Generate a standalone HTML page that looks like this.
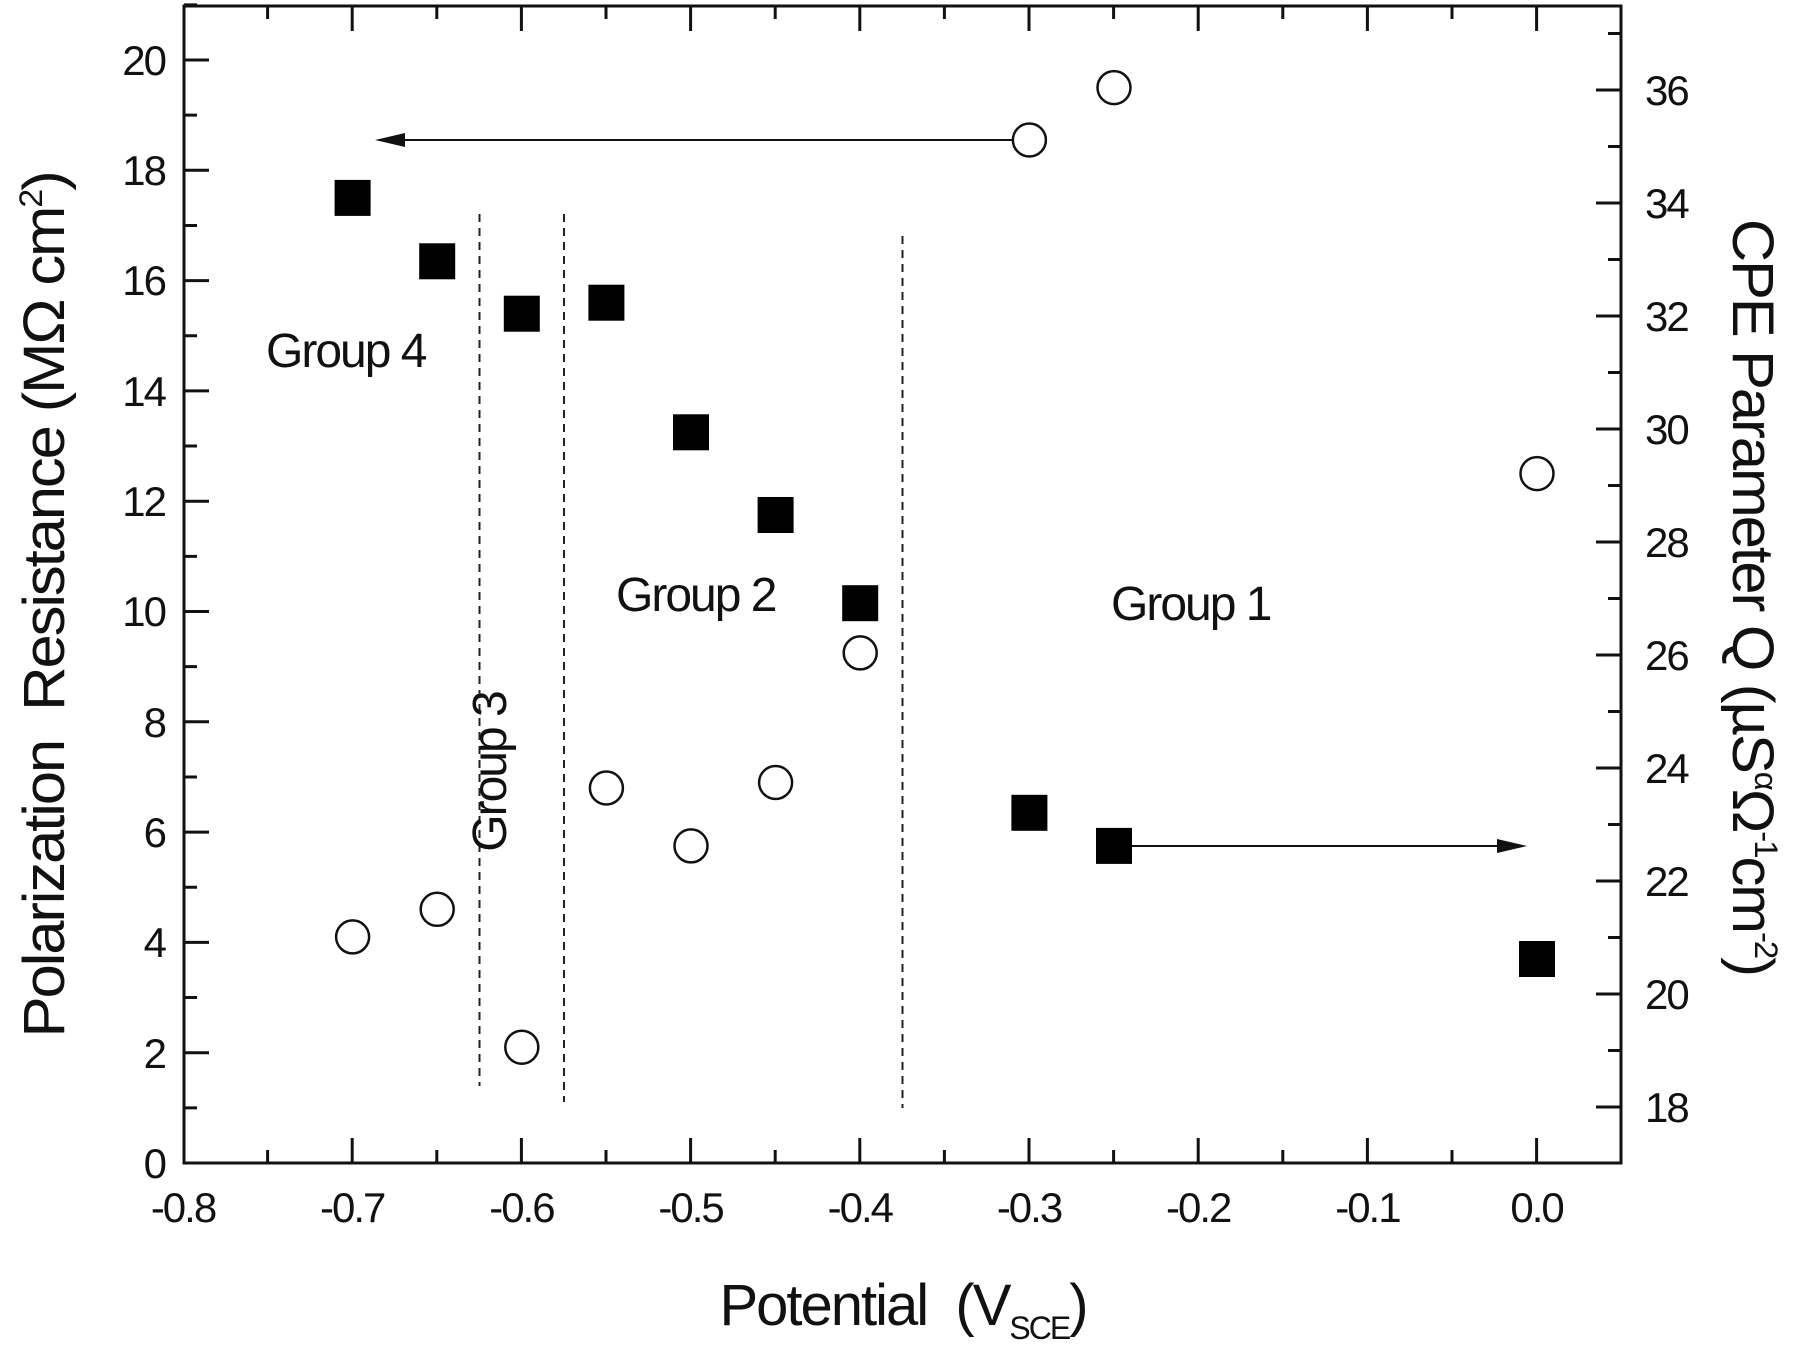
<!DOCTYPE html>
<html><head><meta charset="utf-8"><style>
html,body{margin:0;padding:0;background:#fff;}
svg{display:block;}
text{font-family:"Liberation Sans",sans-serif;fill:#111;}
.t{font-size:42px;letter-spacing:-2px;}
.g{font-size:48px;letter-spacing:-2px;}
.a{font-size:58px;letter-spacing:-2px;}
</style></head><body>
<svg width="1800" height="1350" viewBox="0 0 1800 1350" xmlns="http://www.w3.org/2000/svg">
<rect x="184" y="6" width="1437" height="1157" fill="none" stroke="#111" stroke-width="3"/>
<g stroke="#111" stroke-width="3" fill="none">
<path d="M184 1163h25M184 1107.85h13M184 1052.7h25M184 997.55h13M184 942.4h25M184 887.25h13M184 832.1h25M184 776.95h13M184 721.8h25M184 666.65h13M184 611.5h25M184 556.35h13M184 501.2h25M184 446.05h13M184 390.9h25M184 335.75h13M184 280.6h25M184 225.45h13M184 170.3h25M184 115.15h13M184 60h25M184 4.85h13"/>
<path d="M1621 33.5h-13M1621 90h-25M1621 146.5h-13M1621 203h-25M1621 259.5h-13M1621 316h-25M1621 372.5h-13M1621 429h-25M1621 485.5h-13M1621 542h-25M1621 598.5h-13M1621 655h-25M1621 711.5h-13M1621 768h-25M1621 824.5h-13M1621 881h-25M1621 937.5h-13M1621 994h-25M1621 1050.5h-13M1621 1107h-25"/>
<path d="M267.6 1163v-13M352.2 1163v-25M436.8 1163v-13M521.4 1163v-25M606 1163v-13M690.6 1163v-25M775.2 1163v-13M859.8 1163v-25M944.4 1163v-13M1029 1163v-25M1113.6 1163v-13M1198.2 1163v-25M1282.8 1163v-13M1367.4 1163v-25M1452 1163v-13M1536.6 1163v-25"/>
<path d="M267.6 6v13M352.2 6v25M436.8 6v13M521.4 6v25M606 6v13M690.6 6v25M775.2 6v13M859.8 6v25M944.4 6v13M1029 6v25M1113.6 6v13M1198.2 6v25M1282.8 6v13M1367.4 6v25M1452 6v13M1536.6 6v25"/>
</g>
<g stroke="#222" stroke-width="2" stroke-dasharray="8,6">
<line x1="479.5" y1="214" x2="479.5" y2="1086"/>
<line x1="564" y1="214" x2="564" y2="1102"/>
<line x1="902.5" y1="236" x2="902.5" y2="1108"/>
</g>
<g stroke="#111" stroke-width="2">
<line x1="1012" y1="140" x2="395" y2="140"/>
<line x1="1130" y1="846" x2="1505" y2="846"/>
</g>
<polygon points="375,140 405,133 405,147" fill="#111"/>
<polygon points="1527,846 1497,839 1497,853" fill="#111"/>
<g fill="#000">
<rect x="334.6" y="179.9" width="36" height="36"/>
<rect x="419.2" y="243.3" width="36" height="36"/>
<rect x="503.8" y="295.7" width="36" height="36"/>
<rect x="588.4" y="284.7" width="36" height="36"/>
<rect x="673" y="414.3" width="36" height="36"/>
<rect x="757.6" y="497" width="36" height="36"/>
<rect x="842.2" y="585.2" width="36" height="36"/>
<rect x="1011.4" y="794.8" width="36" height="36"/>
<rect x="1096" y="827.9" width="36" height="36"/>
<rect x="1519" y="941" width="36" height="36"/>
</g>
<g fill="#fff" stroke="#111" stroke-width="2.5">
<circle cx="352.6" cy="936.9" r="16.5"/>
<circle cx="437.2" cy="909.3" r="16.5"/>
<circle cx="521.8" cy="1047.2" r="16.5"/>
<circle cx="606.4" cy="788" r="16.5"/>
<circle cx="691" cy="845.9" r="16.5"/>
<circle cx="775.6" cy="782.5" r="16.5"/>
<circle cx="860.2" cy="652.9" r="16.5"/>
<circle cx="1029.4" cy="140" r="16.5"/>
<circle cx="1114" cy="87.6" r="16.5"/>
<circle cx="1537" cy="473.6" r="16.5"/>
</g>
<g class="t" text-anchor="end">
<text x="165" y="1178">0</text>
<text x="165" y="1068">2</text>
<text x="165" y="957">4</text>
<text x="165" y="847">6</text>
<text x="165" y="737">8</text>
<text x="165" y="626">10</text>
<text x="165" y="516">12</text>
<text x="165" y="406">14</text>
<text x="165" y="295">16</text>
<text x="165" y="185">18</text>
<text x="165" y="75">20</text>
</g>
<g class="t" text-anchor="start">
<text x="1645" y="105">36</text>
<text x="1645" y="218">34</text>
<text x="1645" y="331">32</text>
<text x="1645" y="444">30</text>
<text x="1645" y="557">28</text>
<text x="1645" y="670">26</text>
<text x="1645" y="783">24</text>
<text x="1645" y="896">22</text>
<text x="1645" y="1009">20</text>
<text x="1645" y="1122">18</text>
</g>
<g class="t" text-anchor="middle">
<text x="183" y="1222">-0.8</text>
<text x="352.2" y="1222">-0.7</text>
<text x="521.4" y="1222">-0.6</text>
<text x="690.6" y="1222">-0.5</text>
<text x="859.8" y="1222">-0.4</text>
<text x="1029" y="1222">-0.3</text>
<text x="1198.2" y="1222">-0.2</text>
<text x="1367.4" y="1222">-0.1</text>
<text x="1536.6" y="1222">0.0</text>
</g>
<text class="g" x="266" y="367">Group 4</text>
<text class="g" x="616" y="611">Group 2</text>
<text class="g" x="1111" y="620">Group 1</text>
<text class="g" transform="translate(506,772) rotate(-90)" text-anchor="middle">Group 3</text>
<text class="a" x="903" y="1325" text-anchor="middle">Potential&#160; (V<tspan font-size="32" dy="14">SCE</tspan><tspan dy="-14">)</tspan></text>
<text class="a" transform="translate(64,605) rotate(-90)" text-anchor="middle" textLength="865" lengthAdjust="spacingAndGlyphs">Polarization&#160; Resistance (MΩ cm<tspan font-size="32" dy="-22">2</tspan><tspan dy="22">)</tspan></text>
<text class="a" transform="translate(1733,597) rotate(90)" text-anchor="middle" textLength="756" lengthAdjust="spacingAndGlyphs">CPE Parameter Q (µS<tspan font-size="32" dy="-22">α</tspan><tspan dy="22">Ω</tspan><tspan font-size="32" dy="-22">-1</tspan><tspan dy="22">cm</tspan><tspan font-size="32" dy="-22">-2</tspan><tspan dy="22">)</tspan></text>
</svg>
</body></html>
